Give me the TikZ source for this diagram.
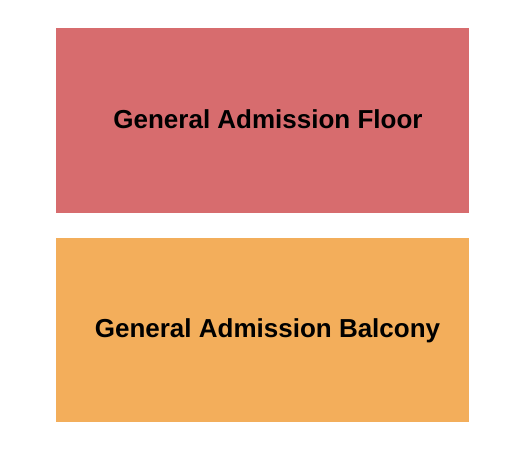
\documentclass[tikz,border=0pt]{standalone}
\usepackage{fontspec}
\setmainfont{Liberation Sans}
\definecolor{floorred}{HTML}{D76C6E}
\definecolor{balconyorange}{HTML}{F3AE5B}
\begin{document}
\begin{tikzpicture}[x=1pt,y=-1pt]
                \tikzset{label text/.style={font=\bfseries\fontsize{26}{30}\selectfont,text=black}}
                \useasboundingbox (0,0) rectangle (525,450);

                \fill[floorred] (56,28) rectangle (469,213);
                \fill[balconyorange] (56,238) rectangle (469,422);

                \node[label text] (floor) at (268,119.5) {General Admission Floor};
                \node[label text] (balcony) at (267.5,330.5) {General Admission Balcony};
            \end{tikzpicture}
\end{document}
